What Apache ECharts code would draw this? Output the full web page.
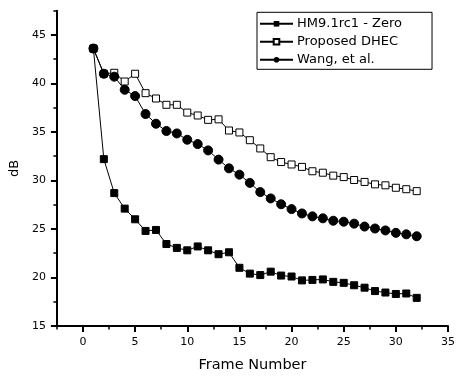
<!DOCTYPE html>
<html><head><meta charset="utf-8">
<script src="https://cdn.jsdelivr.net/npm/echarts@6/dist/echarts.min.js"></script>
<style>html,body{margin:0;padding:0;background:#fff}#c{width:458px;height:378px}</style>
</head><body><div id="c"></div>
<script>
const frames = [1,2,3,4,5,6,7,8,9,10,11,12,13,14,15,16,17,18,19,20,21,22,23,24,25,26,27,28,29,30,31,32];
const hm = [43.6,32.2,28.7,27.1,26.0,24.8,24.9,23.45,23.05,22.8,23.2,22.8,22.4,22.6,21.0,20.4,20.25,20.6,20.2,20.1,19.7,19.75,19.8,19.55,19.45,19.2,18.95,18.6,18.45,18.3,18.35,17.9];
const proposed = [43.6,41.0,41.1,40.2,41.0,39.0,38.45,37.8,37.8,37.0,36.7,36.25,36.3,35.15,34.95,34.15,33.3,32.4,31.9,31.65,31.4,30.95,30.8,30.5,30.35,30.05,29.85,29.6,29.5,29.25,29.1,28.9];
const wang = [43.6,41.0,40.7,39.35,38.7,36.85,35.85,35.1,34.85,34.2,33.75,33.1,32.15,31.25,30.6,29.75,28.8,28.15,27.55,27.05,26.6,26.3,26.1,25.85,25.75,25.55,25.25,25.05,24.85,24.6,24.45,24.25];
const xTicks = [0,5,10,15,20,25,30,35];
const yTicks = [15,20,25,30,35,40,45];
const names = ['HM9.1rc1 - Zero','Proposed DHEC','Wang, et al.'];

const FONT = 'DejaVu Sans';
const chart = echarts.init(document.getElementById('c'));
const zip = a => frames.map((f,i)=>[f,a[i]]);
const lineStyle = {color:'#000',width:1};
chart.setOption({
  animation:false,
  textStyle:{fontFamily:FONT,color:'#000'},
  grid:{left:56,right:5,top:10.7,bottom:45.5},
  legend:{
    left:257, top:12.3, orient:'vertical',
    padding:[5,30,3,2], itemGap:5, itemWidth:33, itemHeight:7,
    borderColor:'#000', borderWidth:1, borderRadius:0,
    textStyle:{fontFamily:FONT,fontSize:13,color:'#000',lineHeight:13,padding:[0,0,0,-1]},
    data:names
  },
  xAxis:[{
    type:'value', min:-2.5, max:35,
    name:'Frame Number', nameLocation:'middle', nameGap:32,
    nameTextStyle:{fontFamily:FONT,fontSize:14.5,color:'#000'},
    axisLine:{show:true,onZero:false,lineStyle:{color:'#000',width:2}},
    axisTick:{show:true,customValues:xTicks,length:6,lineStyle:{color:'#000',width:2}},
    axisLabel:{customValues:xTicks,fontFamily:FONT,fontSize:11,color:'#000',margin:11},
    splitLine:{show:false}
  },{
    type:'value', min:-2.5, max:35, interval:2.5, position:'bottom',
    axisLine:{show:false,onZero:false},
    axisTick:{show:true,length:3.5,lineStyle:{color:'#000',width:1.5}},
    axisLabel:{show:false}, splitLine:{show:false}
  }],
  yAxis:[{
    type:'value', min:15, max:47.5,
    name:'dB', nameLocation:'middle', nameGap:31, nameRotate:90,
    nameTextStyle:{fontFamily:FONT,fontSize:13,color:'#000'},
    axisLine:{show:true,onZero:false,lineStyle:{color:'#000',width:2}},
    axisTick:{show:true,customValues:yTicks,length:6,lineStyle:{color:'#000',width:2}},
    axisLabel:{customValues:yTicks,fontFamily:FONT,fontSize:11,color:'#000',margin:11},
    splitLine:{show:false}
  },{
    type:'value', min:15, max:47.5, interval:2.5, position:'left',
    axisLine:{show:false,onZero:false},
    axisTick:{show:true,length:3.5,lineStyle:{color:'#000',width:1.5}},
    axisLabel:{show:false}, splitLine:{show:false}
  }],
  series:[
    {name:names[0],type:'line',data:zip(hm),symbol:'rect',symbolSize:7,
     lineStyle:lineStyle,itemStyle:{color:'#000',borderColor:'#000'},showAllSymbol:true},
    {name:names[1],type:'line',data:zip(proposed),symbol:'rect',symbolSize:7,
     lineStyle:lineStyle,itemStyle:{color:'#fff',borderColor:'#000',borderWidth:1},showAllSymbol:true},
    {name:names[2],type:'line',data:zip(wang),symbol:'circle',symbolSize:9,
     lineStyle:lineStyle,itemStyle:{color:'#000',borderColor:'#000'},showAllSymbol:true}
  ]
});
</script></body></html>
